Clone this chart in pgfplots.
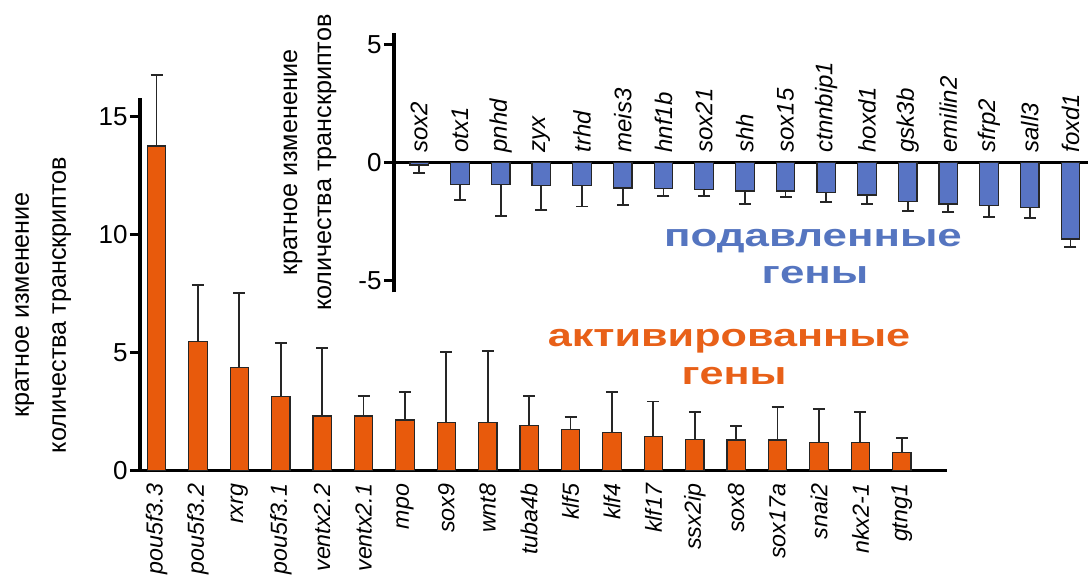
\documentclass[border=0pt]{standalone}
\usepackage{fontspec}
\setmainfont{Liberation Sans}
\usepackage{pgfplots}
\pgfplotsset{compat=1.18}
\usepackage{pgfplotstable}
\definecolor{barorange}{RGB}{232,90,12}
\definecolor{txtorange}{RGB}{232,96,24}
\definecolor{barblue}{RGB}{88,116,196}
\definecolor{txtblue}{RGB}{85,117,192}

\pgfplotstableread{
x y e
0 13.75 3.01
1 5.46 2.40
2 4.36 3.15
3 3.13 2.26
4 2.31 2.89
5 2.31 0.85
6 2.14 1.19
7 2.03 3.00
8 2.05 3.00
9 1.92 1.24
10 1.75 0.53
11 1.62 1.71
12 1.43 1.49
13 1.32 1.15
14 1.29 0.60
15 1.29 1.39
16 1.19 1.41
17 1.19 1.30
18 0.75 0.64
}\upgenes

\pgfplotstableread{
x y e
0 -0.10 0.34
1 -0.92 0.66
2 -0.92 1.34
3 -0.96 1.04
4 -0.96 0.90
5 -1.07 0.72
6 -1.11 0.29
7 -1.12 0.29
8 -1.20 0.55
9 -1.20 0.24
10 -1.27 0.38
11 -1.37 0.38
12 -1.65 0.40
13 -1.75 0.34
14 -1.83 0.46
15 -1.89 0.47
16 -3.23 0.35
}\downgenes

\pgfplotstableread{
x y lab
0 0.41 sox2
1 0.41 otx1
2 0.41 pnhd
3 0.41 zyx
4 0.41 trhd
5 0.41 meis3
6 0.41 hnf1b
7 0.41 sox21
8 0.41 shh
9 0.41 sox15
10 0.41 ctnnbip1
11 0.41 hoxd1
12 0.41 gsk3b
13 0.41 emilin2
14 0.41 sfrp2
15 0.41 sall3
16 0.41 foxd1
}\downlabels

\begin{document}
\begin{tikzpicture}
\useasboundingbox (0,0) rectangle (544.5pt,288pt);

% main axis (activated genes)
\begin{axis}[
  at={(70pt,52.75pt)}, anchor=south west,
  scale only axis, width=403.65pt, height=186.44pt,
  xmin=-0.4, xmax=19.1, ymin=0, ymax=15.8,
  axis lines=left,
  axis line style={-, line width=1.7pt, black},
  clip=false,
  /pgf/number format/assume math mode=true,
  ytick={0,5,10,15},
  ytick style={line width=1.2pt, black},
  tick align=outside, major tick length=5pt,
  yticklabel style={font=\fontsize{13}{13}\selectfont, inner sep=1pt},
  xtick=data,
  xtick style={draw=none},
  xticklabels={pou5f3.3,pou5f3.2,rxrg,pou5f3.1,ventx2.2,ventx2.1,mpo,sox9,wnt8,tuba4b,klf5,klf4,klf17,ssx2ip,sox8,sox17a,snai2,nkx2-1,gtng1},
  xticklabel style={rotate=90, anchor=east, inner sep=0pt, font=\itshape\fontsize{11.6}{11.6}\selectfont},
  xticklabel shift=1.5pt,
  ylabel={кратное изменение\\количества транскриптов},
  every axis y label/.style={at={(axis description cs:-0.12,0.444)}, rotate=90, anchor=center, align=center, font=\fontsize{12.6}{18.5}\selectfont},
]
\addplot[ybar, bar width=9.2pt, bar shift=0pt, fill=barorange, draw=black!85, line width=0.6pt,
  error bars/.cd, y dir=plus, y explicit,
  error bar style={line width=0.9pt, black!85},
  error mark options={rotate=90, mark size=3pt, line width=0.9pt, black!85}]
  table[x=x, y=y, y error=e] {\upgenes};
\end{axis}

% inset axis (repressed genes)
\begin{axis}[
  at={(197pt,141.75pt)}, anchor=south west,
  scale only axis, width=346.97pt, height=129.8pt,
  xmin=-0.62, xmax=16.43, ymin=-5.5, ymax=5.5,
  axis y line=left, axis x line=middle,
  axis line style={-, line width=1.7pt, black},
  clip=false,
  /pgf/number format/assume math mode=true,
  ytick={-5,0,5},
  ytick style={line width=1.2pt, black},
  tick align=outside, major tick length=5pt,
  yticklabel style={font=\fontsize{13}{13}\selectfont, inner sep=1pt},
  xtick=\empty,
  ylabel={кратное изменение\\количества транскриптов},
  every axis y label/.style={at={(axis description cs:-0.121,0.5)}, rotate=90, anchor=center, align=center, font=\fontsize{12.6}{17}\selectfont},
]
\addplot[ybar, bar width=9.3pt, bar shift=0pt, fill=barblue, draw=black!85, line width=0.6pt,
  error bars/.cd, y dir=minus, y explicit,
  error bar style={line width=0.9pt, black!85},
  error mark options={rotate=90, mark size=3pt, line width=0.9pt, black!85}]
  table[x=x, y=y, y error=e] {\downgenes};
\addplot[draw=none, mark=none, nodes near coords, point meta=explicit symbolic,
  every node near coord/.append style={rotate=90, anchor=west, inner sep=0pt, black, font=\itshape\fontsize{12}{12}\selectfont}]
  table[x=x, y=y, meta=lab] {\downlabels};
\end{axis}

\node[anchor=base, xscale=1.35, text=txtorange, font=\bfseries\fontsize{16}{16}\selectfont] at (364.5pt,114.5pt) {активированные};
\node[anchor=base, xscale=1.35, text=txtorange, font=\bfseries\fontsize{16}{16}\selectfont] at (367pt,95.5pt) {гены};
\node[anchor=base, xscale=1.37, text=txtblue, font=\bfseries\fontsize{16}{16}\selectfont] at (406.5pt,164.6pt) {подавленные};
\node[anchor=base, xscale=1.37, text=txtblue, font=\bfseries\fontsize{16}{16}\selectfont] at (407.5pt,146.3pt) {гены};
\end{tikzpicture}
\end{document}
